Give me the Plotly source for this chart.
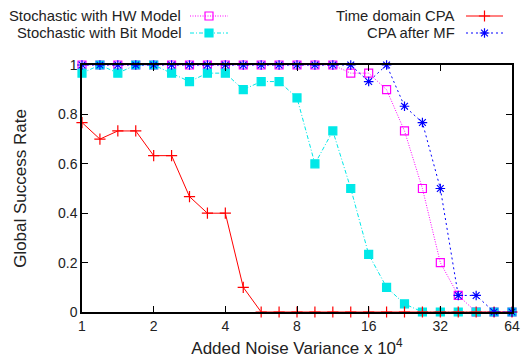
import plotly.graph_objects as go

# The page body margin is removed in post_script, so the figure fills the window.
OFF = 0
SW, SH = 521, 358            # window size
W, H = SW - OFF, SH - OFF    # figure size

# x positions: noise variance (x 10^4), quarter-octave steps from 1 to 64
x_vals = [2 ** (k / 4) for k in range(25)]

hw_model = [1, 1, 1, 1, 1, 1, 1, 1, 1, 1, 1, 1, 1, 1, 1, 0.967, 0.967, 0.9, 0.733, 0.5,
            0.2, 0.067, 0, 0, 0]
bit_model = [0.967, 1, 0.967, 1, 1, 0.967, 0.933, 0.967, 0.967, 0.9, 0.933, 0.933, 0.867,
             0.6, 0.733, 0.5, 0.233, 0.1, 0.033, 0, 0, 0, 0, 0, 0]
time_cpa = [0.767, 0.7, 0.733, 0.733, 0.633, 0.633, 0.467, 0.4, 0.4, 0.1, 0, 0, 0, 0, 0,
            0, 0, 0, 0, 0, 0, 0, 0, 0, 0]
mf_cpa = [1, 1, 1, 1, 1, 1, 1, 1, 1, 1, 1, 1, 1, 1, 1, 1, 0.933, 1, 0.833, 0.767, 0.5,
          0.067, 0.067, 0, 0]

x_ticks = [1, 2, 4, 8, 16, 32, 64]
x_ticktext = ["1", "2", "4", "8", "16", "32", "64"]

series = [
    dict(name="Stochastic with HW Model", y=hw_model, color="#ff00ff", dash="1px,1.5px",
         symbol="square-open", size=8),
    dict(name="Stochastic with Bit Model", y=bit_model, color="#00e8e8", dash="4px,2px,1px,2px",
         symbol="square", size=8),
    dict(name="Time domain CPA", y=time_cpa, color="#ff0000", dash="solid",
         symbol="cross-thin-open", size=8),
    dict(name="CPA after MF", y=mf_cpa, color="#0000ff", dash="2px,3px",
         symbol="asterisk-open", size=8),
]

FONT = "Liberation Sans, Arial, sans-serif"
fig = go.Figure()

for s in series:
    fig.add_trace(go.Scatter(
        x=x_vals, y=s["y"], mode="lines+markers", name=s["name"],
        line=dict(color=s["color"], width=1, dash=s["dash"]),
        marker=dict(symbol=s["symbol"], size=s["size"], color=s["color"],
                    line=dict(color=s["color"], width=1.2)),
        cliponaxis=False, showlegend=False, xaxis="x", yaxis="y"))

# gnuplot-style key (text then sample), placed on an overlay window-pixel axis
key_pos = [(182, 16, 190, 228), (182, 33, 190, 228), (456, 16, 466, 503), (456, 33, 466, 503)]
annotations = []
for s, (tx, ty, x0, x1) in zip(series, key_pos):
    fig.add_trace(go.Scatter(
        x=[x0, x1], y=[ty, ty], mode="lines", showlegend=False, hoverinfo="skip",
        line=dict(color=s["color"], width=1, dash=s["dash"]), xaxis="x2", yaxis="y2"))
    fig.add_trace(go.Scatter(
        x=[(x0 + x1) / 2], y=[ty], mode="markers", showlegend=False, hoverinfo="skip",
        marker=dict(symbol=s["symbol"], size=s["size"], color=s["color"],
                    line=dict(color=s["color"], width=1.2)), xaxis="x2", yaxis="y2"))
    annotations.append(dict(x=tx, y=ty, xref="x2", yref="y2", text=s["name"], showarrow=False,
                            xanchor="right", yanchor="middle", borderpad=0,
                            font=dict(size=14.8, color="#222")))

# plot box in window pixels
L, R, T, B = 82, 512, 65, 312
fig.update_layout(
    width=W, height=H, margin=dict(l=0, r=0, t=0, b=0, autoexpand=False),
    paper_bgcolor="white", plot_bgcolor="rgba(0,0,0,0)",
    font=dict(family=FONT, size=14, color="#222"),
    showlegend=False,
    annotations=annotations,
    xaxis=dict(type="log", range=[0, 1.80618], domain=[(L - OFF) / W, (R - OFF) / W],
               automargin=False, ticklabeloverflow="allow",
               tickvals=x_ticks, ticktext=x_ticktext, ticks="inside", ticklen=6,
               tickcolor="black", showline=True, linecolor="black", linewidth=1.5,
               mirror="allticks", showgrid=False, zeroline=False,
               title=dict(text="Added Noise Variance x 10<sup>4</sup>", standoff=11),
               anchor="y"),
    yaxis=dict(range=[0, 1], domain=[(SH - B) / H, (SH - T) / H], dtick=0.2, tick0=0,
               automargin=False, ticklabeloverflow="allow",
               ticks="inside", ticklen=6, tickcolor="black", showline=True,
               linecolor="black", linewidth=1.5, mirror="allticks", showgrid=False,
               zeroline=False, title=dict(text="Global Success Rate", standoff=27),
               anchor="x"),
    xaxis2=dict(range=[OFF, SW], domain=[0, 1], visible=False, anchor="y2", fixedrange=True,
                automargin=False),
    yaxis2=dict(range=[SH, OFF], domain=[0, 1], visible=False, anchor="x2", fixedrange=True,
                automargin=False),
)

fig.write_html("out.html",
               config={"displayModeBar": False},
               post_script="document.body.style.margin='0';"
                           "document.body.style.padding='0';"
                           "document.documentElement.style.overflow='hidden';")
